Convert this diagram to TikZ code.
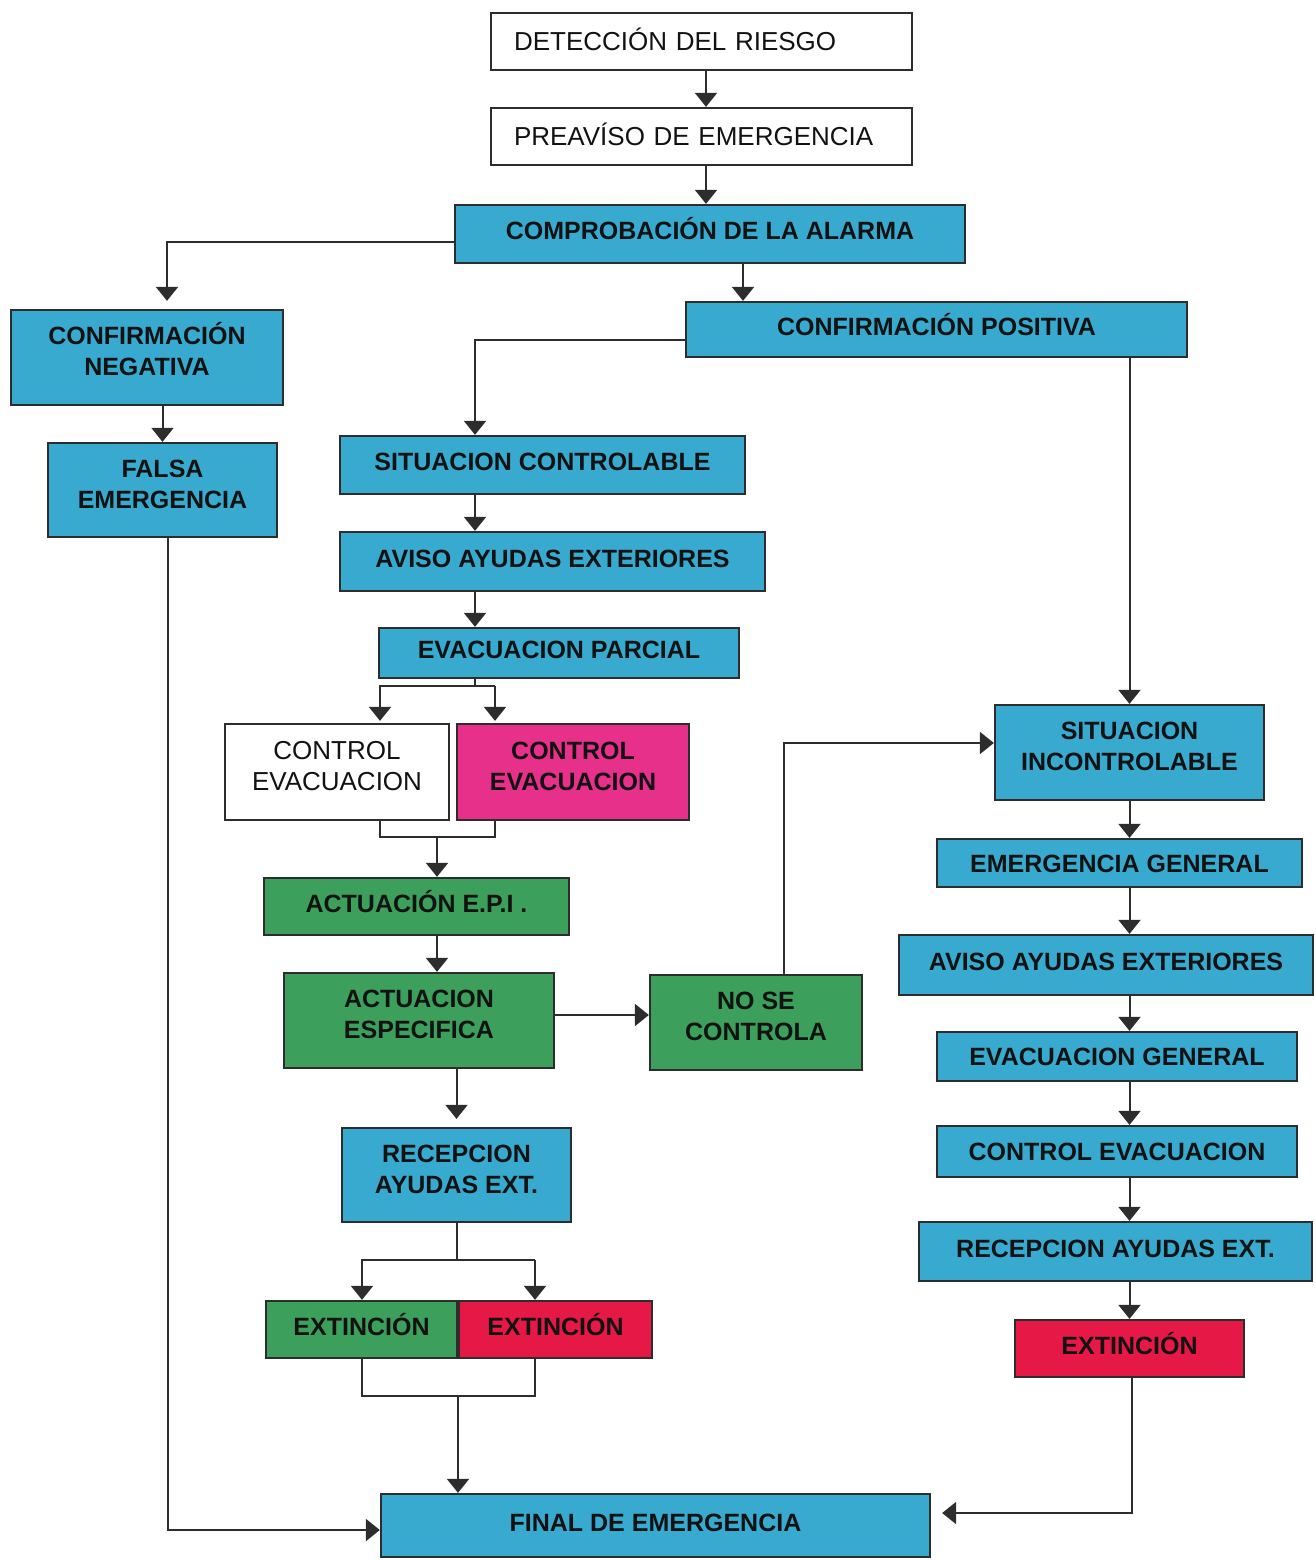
\documentclass[tikz,border=0pt]{standalone}
\usepackage{fontspec}
\setmainfont{Liberation Sans}
\usetikzlibrary{arrows.meta,calc}
\definecolor{bblue}{RGB}{56,170,208}
\definecolor{bgreen}{RGB}{60,160,92}
\definecolor{bpink}{RGB}{230,48,138}
\definecolor{bred}{RGB}{230,24,70}
\definecolor{lineC}{RGB}{45,45,45}
\definecolor{txtC}{RGB}{18,18,18}
\tikzset{
  box/.style={draw=lineC, line width=2.3pt, inner sep=0pt, align=center,
    font=\fontsize{25}{31}\selectfont\bfseries, text=txtC,
    text height=18pt, text depth=7pt},
  twoline/.style={text height=49pt, text depth=13pt},
  centred/.style={text height=18pt, text depth=0pt},
  bluebox/.style={box, fill=bblue},
  greenbox/.style={box, fill=bgreen},
  pinkbox/.style={box, fill=bpink},
  redbox/.style={box, fill=bred},
  whitebox/.style={box, fill=white, font=\fontsize{26}{31}\selectfont},
  topbox/.style={whitebox, align=left, text width=375pt, inner xsep=23pt,
    minimum height=57pt, text height=18.6pt, text depth=0pt},
  arr/.style={draw=lineC, line width=2pt, -{Triangle[width=22pt,length=14pt]}},
  ln/.style={draw=lineC, line width=2pt}
}
\begin{document}
\begin{tikzpicture}[x=1pt,y=-1pt]
\useasboundingbox (0,0) rectangle (1316,1560);
\fill[white] (0,0) rectangle (1316,1560);

% top column
\node[topbox] (det) at (701.5,41.5) {DETECCIÓN DEL RIESGO};
\node[topbox] (pre) at (701.5,136.5) {PREAVÍSO DE EMERGENCIA};
\node[bluebox, minimum width=510pt, minimum height=58pt] (comp) at (710,234) {COMPROBACIÓN DE LA ALARMA};

% left column
\node[bluebox, twoline, minimum width=272pt, minimum height=95pt] (cneg) at (147,357.5) {CONFIRMACIÓN\\NEGATIVA};
\node[bluebox, twoline, minimum width=229pt, minimum height=94pt] (falsa) at (162.5,490) {FALSA\\EMERGENCIA};

% middle column
\node[bluebox, minimum width=501pt, minimum height=55pt] (cpos) at (936.5,329.5) {CONFIRMACIÓN POSITIVA};
\node[bluebox, minimum width=405pt, minimum height=58pt] (sitc) at (542.5,465) {SITUACION CONTROLABLE};
\node[bluebox, minimum width=425pt, minimum height=59pt] (aviso1) at (552.5,561.5) {AVISO AYUDAS EXTERIORES};
\node[bluebox, minimum width=360pt, minimum height=50pt] (evacp) at (559,653) {EVACUACION PARCIAL};
\node[whitebox, twoline, minimum width=224pt, minimum height=96pt] (ctrlw) at (337,772) {CONTROL\\EVACUACION};
\node[pinkbox, twoline, minimum width=232pt, minimum height=96pt] (ctrlp) at (573,772) {CONTROL\\EVACUACION};
\node[greenbox, minimum width=305pt, minimum height=57pt] (epi) at (416.5,906.5) {ACTUACIÓN E.P.I .};
\node[greenbox, twoline, minimum width=270pt, minimum height=95pt] (esp) at (419,1020.5) {ACTUACION\\ESPECIFICA};
\node[greenbox, twoline, minimum width=212pt, minimum height=95pt] (nose) at (756,1022.5) {NO SE\\CONTROLA};
\node[bluebox, twoline, minimum width=229pt, minimum height=94pt] (recep) at (456.5,1175) {RECEPCION\\AYUDAS EXT.};
\node[greenbox, minimum width=191pt, minimum height=57pt] (extg) at (361.5,1329.5) {EXTINCIÓN};
\node[redbox, minimum width=193pt, minimum height=57pt] (extr) at (555.5,1329.5) {EXTINCIÓN};
\node[bluebox, minimum width=549pt, minimum height=63pt] (final) at (655.5,1525.5) {FINAL DE EMERGENCIA};

% right column
\node[bluebox, twoline, minimum width=269pt, minimum height=95pt] (sitinc) at (1129.5,752.5) {SITUACION\\INCONTROLABLE};
\node[bluebox, centred, minimum width=365pt, minimum height=48pt] (emg) at (1119.5,863) {EMERGENCIA GENERAL};
\node[bluebox, minimum width=414pt, minimum height=60pt] (aviso2) at (1106,965) {AVISO AYUDAS EXTERIORES};
\node[bluebox, centred, minimum width=360pt, minimum height=49pt] (evg) at (1117,1056.5) {EVACUACION GENERAL};
\node[bluebox, centred, minimum width=360pt, minimum height=51pt] (ctrlg) at (1117,1151.5) {CONTROL EVACUACION};
\node[bluebox, minimum width=393pt, minimum height=59pt] (recg) at (1115.5,1251.5) {RECEPCION AYUDAS EXT.};
\node[redbox, minimum width=229pt, minimum height=57pt] (extr2) at (1129.5,1348.5) {EXTINCIÓN};

% helper coordinates
\coordinate (a1) at ([xshift=4.5pt]det.south);
\coordinate (a2) at ([xshift=4.5pt]pre.south);
\coordinate (c1) at ([xshift=33pt]comp.south);
\coordinate (c2) at ([xshift=-67.5pt]sitc.south);
\coordinate (s1) at (380,686);
\coordinate (s2) at (495,686);
\coordinate (m1) at (380,837);
\coordinate (m2) at (495,837);
\coordinate (m3) at (437,837);
\coordinate (h1) at ([yshift=5.5pt]esp.east);
\coordinate (e1) at (362,1260);
\coordinate (e2) at (535,1260);
\coordinate (f1) at (362,1396);
\coordinate (f2) at (535,1396);
\coordinate (f3) at (458,1396);
\coordinate (v) at (sitinc.south);

% connectors
\draw[arr] (a1) -- (a1 |- pre.north);
\draw[arr] (a2) -- (a2 |- comp.north);
\draw[arr, shorten >=8pt] ([yshift=-8pt]comp.west) -| ([xshift=20pt]cneg.north);
\draw[arr] (c1) -- (c1 |- cpos.north);
\draw[arr] (falsa.north |- cneg.south) -- (falsa.north);
\draw[arr] ([yshift=-10.5pt]cpos.west) -| ([xshift=-67.5pt]sitc.north);
\draw[arr] (c2) -- (c2 |- aviso1.north);
\draw[arr] (c2 |- aviso1.south) -- (c2 |- evacp.north);
\draw[ln] (c2 |- evacp.south) -- (c2 |- s1);
\draw[arr, shorten >=2pt] (s2) -- (s1) -- (s1 |- ctrlw.north);
\draw[arr, shorten >=2pt] (s2) -- (s2 |- ctrlp.north);
\draw[ln] (m1 |- ctrlw.south) -- (m1) -- (m2) -- (m2 |- ctrlp.south);
\draw[arr] (m3) -- (m3 |- epi.north);
\draw[arr] (m3 |- epi.south) -- (m3 |- esp.north);
\draw[arr] (h1) -- (h1 -| nose.west);
\draw[arr] ([xshift=28pt]nose.north) |- ([yshift=9.5pt]sitinc.west);
\draw[arr, shorten >=8pt] (recep.north |- esp.south) -- (recep.north);
\draw[ln] (recep.south) -- (recep.south |- e1);
\draw[arr] (e2) -- (e1) -- (e1 |- extg.north);
\draw[arr] (e2) -- (e2 |- extr.north);
\draw[ln] (f1 |- extg.south) -- (f1) -- (f2) -- (f2 |- extr.south);
\draw[arr] (f3) -- (f3 |- final.north);
\draw[arr] ([xshift=5.5pt]falsa.south) |- ([yshift=-4.5pt]final.west);
\draw[arr] (sitinc.north |- cpos.south) -- (sitinc.north);
\draw[arr] (v) -- (v |- emg.north);
\draw[arr] (v |- emg.south) -- (v |- aviso2.north);
\draw[arr] (v |- aviso2.south) -- (v |- evg.north);
\draw[arr] (v |- evg.south) -- (v |- ctrlg.north);
\draw[arr] (v |- ctrlg.south) -- (v |- recg.north);
\draw[arr] (v |- recg.south) -- (v |- extr2.north);
\draw[arr, shorten >=11pt] ([xshift=2pt]extr2.south) |- ([yshift=12.5pt]final.east);
\end{tikzpicture}
\end{document}
